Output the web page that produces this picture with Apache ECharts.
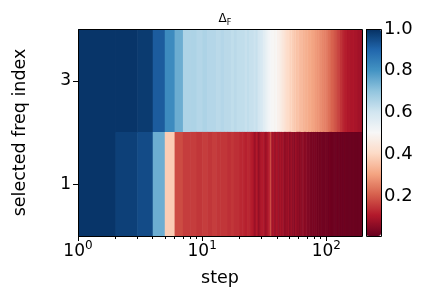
<!DOCTYPE html>
<html>
<head>
<meta charset="utf-8">
<script src="https://cdn.jsdelivr.net/npm/echarts@6/dist/echarts.min.js"></script>
<style>
  html, body { margin: 0; padding: 0; background: #fff; }
  #chart { width: 432px; height: 288px; }
</style>
</head>
<body>
<div id="chart"></div>
<script>
// rows of the heatmap (selected freq index) and their values per step, step = index + 1
const rowIndex = [1, 3];
const row3Values = [
  0.99,0.99,0.98,0.92,0.82,0.75,0.66,0.66,0.65,0.66,
  0.65,0.65,0.64,0.65,0.64,0.64,0.63,0.64,0.63,0.63,
  0.63,0.62,0.63,0.62,0.62,0.61,0.62,0.60,0.59,0.58,
  0.56,0.55,0.53,0.52,0.51,0.50,0.50,0.49,0.50,0.48,
  0.48,0.47,0.46,0.45,0.44,0.43,0.42,0.41,0.41,0.40,
  0.39,0.40,0.38,0.38,0.37,0.38,0.36,0.36,0.37,0.35,
  0.35,0.34,0.35,0.34,0.33,0.34,0.33,0.33,0.32,0.33,
  0.32,0.32,0.31,0.32,0.31,0.31,0.30,0.31,0.30,0.30,
  0.29,0.30,0.29,0.29,0.28,0.29,0.28,0.28,0.27,0.28,
  0.27,0.27,0.26,0.27,0.26,0.26,0.25,0.26,0.25,0.25,
  0.24,0.25,0.24,0.23,0.24,0.23,0.22,0.23,0.22,0.21,
  0.22,0.21,0.20,0.21,0.20,0.19,0.20,0.19,0.18,0.19,
  0.18,0.18,0.17,0.18,0.17,0.16,0.17,0.16,0.15,0.15,
  0.14,0.15,0.14,0.13,0.14,0.13,0.13,0.12,0.13,0.12,
  0.11,0.12,0.11,0.11,0.12,0.11,0.11,0.10,0.11,0.11,
  0.10,0.11,0.11,0.10,0.11,0.10,0.10,0.11,0.10,0.10,
  0.11,0.10,0.10,0.10,0.11,0.10,0.10,0.09,0.10,0.10,
  0.10,0.09,0.10,0.10,0.09,0.10,0.09,0.09,0.10,0.09,
  0.09,0.09,0.08,0.09,0.09,0.08,0.09,0.08,0.08,0.08,
  0.07,0.08,0.07
];
const row1Values = [
  0.99,0.97,0.95,0.75,0.38,0.18,0.16,0.16,0.15,0.16,
  0.15,0.16,0.15,0.15,0.15,0.14,0.15,0.14,0.14,0.13,
  0.13,0.12,0.13,0.12,0.11,0.08,0.11,0.07,0.10,0.11,
  0.10,0.08,0.10,0.11,0.18,0.09,0.10,0.07,0.10,0.09,
  0.07,0.10,0.08,0.09,0.07,0.06,0.08,0.07,0.09,0.06,
  0.07,0.08,0.06,0.07,0.05,0.08,0.07,0.06,0.07,0.05,
  0.06,0.07,0.05,0.06,0.07,0.05,0.06,0.05,0.06,0.04,
  0.05,0.04,0.05,0.03,0.04,0.03,0.03,0.04,0.03,0.03,
  0.03,0.04,0.03,0.03,0.02,0.03,0.03,0.02,0.03,0.03,
  0.02,0.03,0.02,0.02,0.03,0.02,0.02,0.03,0.02,0.02,
  0.02,0.03,0.02,0.02,0.02,0.03,0.02,0.02,0.02,0.02,
  0.02,0.02,0.01,0.02,0.02,0.02,0.02,0.01,0.02,0.02,
  0.02,0.02,0.02,0.01,0.02,0.02,0.01,0.02,0.02,0.02,
  0.01,0.02,0.02,0.02,0.01,0.02,0.02,0.01,0.02,0.02,
  0.02,0.01,0.02,0.02,0.01,0.02,0.01,0.02,0.02,0.01,
  0.02,0.02,0.01,0.02,0.01,0.02,0.02,0.01,0.02,0.01,
  0.02,0.01,0.02,0.01,0.02,0.02,0.01,0.02,0.01,0.02,
  0.01,0.02,0.01,0.02,0.01,0.01,0.02,0.01,0.02,0.01,
  0.01,0.02,0.01,0.01,0.02,0.01,0.01,0.02,0.01,0.01,
  0.02,0.01,0.01
];
const xMajorTicks = [1, 10, 100];
const xMinorTicks = [2, 3, 4, 5, 6, 7, 8, 9, 20, 30, 40, 50, 60, 70, 80, 90];
const yTicks = [1, 3];
const cbarTicks = [0.2, 0.4, 0.6, 0.8, 1.0];
const vmin = 0.01, vmax = 1.0;
// matplotlib RdBu, low -> high
const rdbu = ['#67001f','#b2182b','#d6604d','#f4a582','#fddbc7','#f7f7f7',
              '#d1e5f0','#92c5de','#4393c3','#2166ac','#053061'];

const cells = [];
row3Values.forEach((v, i) => cells.push([i + 1, rowIndex[1], v]));
row1Values.forEach((v, i) => cells.push([i + 1, rowIndex[0], v]));
const lastStep = row3Values.length + 1;

const font = 'DejaVu Sans';
const chart = echarts.init(document.getElementById('chart'));
chart.setOption({
  animation: false,
  textStyle: { fontFamily: font, color: '#000' },
  title: {
    text: '{a|Δ}{s|F}',
    left: 220, top: 8, textAlign: 'center',
    textStyle: {
      fontWeight: 'normal',
      rich: {
        a: { fontFamily: font, fontSize: 12, fontWeight: 'normal', color: '#000', verticalAlign: 'bottom' },
        s: { fontFamily: font, fontSize: 8, fontWeight: 'normal', color: '#000', verticalAlign: 'bottom', padding: [0, 0, -2, 0] }
      }
    }
  },
  grid: [
    { left: 78, right: 70, top: 29, bottom: 52, outerBoundsMode: 'none' },
    { left: 366, width: 15, top: 29, bottom: 52, outerBoundsMode: 'none' }
  ],
  xAxis: [
    {
      type: 'log', logBase: 10, min: 1, max: lastStep, gridIndex: 0, position: 'bottom',
      name: 'step', nameLocation: 'middle', nameGap: 33,
      nameTextStyle: { fontSize: 17.5, color: '#000' },
      axisLine: { show: false },
      splitLine: { show: false },
      axisTick: { customValues: xMajorTicks, length: 5, lineStyle: { color: '#000' } },
      axisLabel: {
        customValues: xMajorTicks, margin: 4,
        formatter: v => '{b|10}{s|' + Math.round(Math.log10(v)) + '}',
        rich: {
          b: { fontFamily: font, fontSize: 17, color: '#000', verticalAlign: 'bottom', lineHeight: 20 },
          s: { fontFamily: font, fontSize: 12, color: '#000', verticalAlign: 'top', lineHeight: 20, padding: [0, 0, 8, 0] }
        }
      }
    },
    {
      type: 'log', logBase: 10, min: 1, max: lastStep, gridIndex: 0, position: 'bottom',
      axisLine: { show: false }, splitLine: { show: false },
      axisLabel: { show: false },
      axisTick: { customValues: xMinorTicks, length: 3, lineStyle: { color: '#000' } }
    },
    { type: 'value', gridIndex: 1, show: false, min: 0, max: 1 }
  ],
  yAxis: [
    {
      type: 'value', min: 0, max: 4, gridIndex: 0,
      name: 'selected freq index', nameLocation: 'middle', nameGap: 49,
      nameTextStyle: { fontSize: 17.5, color: '#000' },
      axisLine: { show: false }, splitLine: { show: false },
      axisTick: { customValues: yTicks, length: 5, lineStyle: { color: '#000' } },
      axisLabel: { customValues: yTicks, fontSize: 17, color: '#000', margin: 7, padding: [4, 0, 0, 0] }
    },
    {
      type: 'value', min: vmin, max: vmax, gridIndex: 1, position: 'right',
      axisLine: { show: false }, splitLine: { show: false },
      axisTick: { customValues: cbarTicks, length: 5, lineStyle: { color: '#000' } },
      axisLabel: { customValues: cbarTicks, fontSize: 18, color: '#000', margin: 3, padding: [5, 0, 0, 0],
                   formatter: v => v.toFixed(1) }
    }
  ],
  visualMap: {
    type: 'continuous', min: vmin, max: vmax, dimension: 2, seriesIndex: 0,
    left: 366, top: 29, itemWidth: 15, itemHeight: 207, padding: 0,
    calculable: false, hoverLink: false, text: null,
    inRange: { color: rdbu }
  },
  graphic: [
    { type: 'rect', z: 100, shape: { x: 78.5, y: 29.5, width: 284, height: 207 },
      style: { fill: null, stroke: '#000', lineWidth: 1 } },
    { type: 'rect', z: 100, shape: { x: 366.5, y: 29.5, width: 15, height: 207 },
      style: { fill: null, stroke: '#000', lineWidth: 1 } }
  ],
  series: [{
    type: 'custom',
    xAxisIndex: 0, yAxisIndex: 0,
    clip: true,
    encode: { x: 0, y: 1 },
    data: cells,
    renderItem: function (params, api) {
      const s = api.value(0), r = api.value(1);
      const p0 = api.coord([s, r - 1]);
      const p1 = api.coord([s + 1, r + 1]);
      return {
        type: 'rect',
        shape: { x: p0[0], y: p1[1] - 0.6, width: p1[0] - p0[0] + 0.6, height: p0[1] - p1[1] + 1.2 },
        style: { fill: api.visual('color') }
      };
    }
  }]
});
</script>
</body>
</html>
